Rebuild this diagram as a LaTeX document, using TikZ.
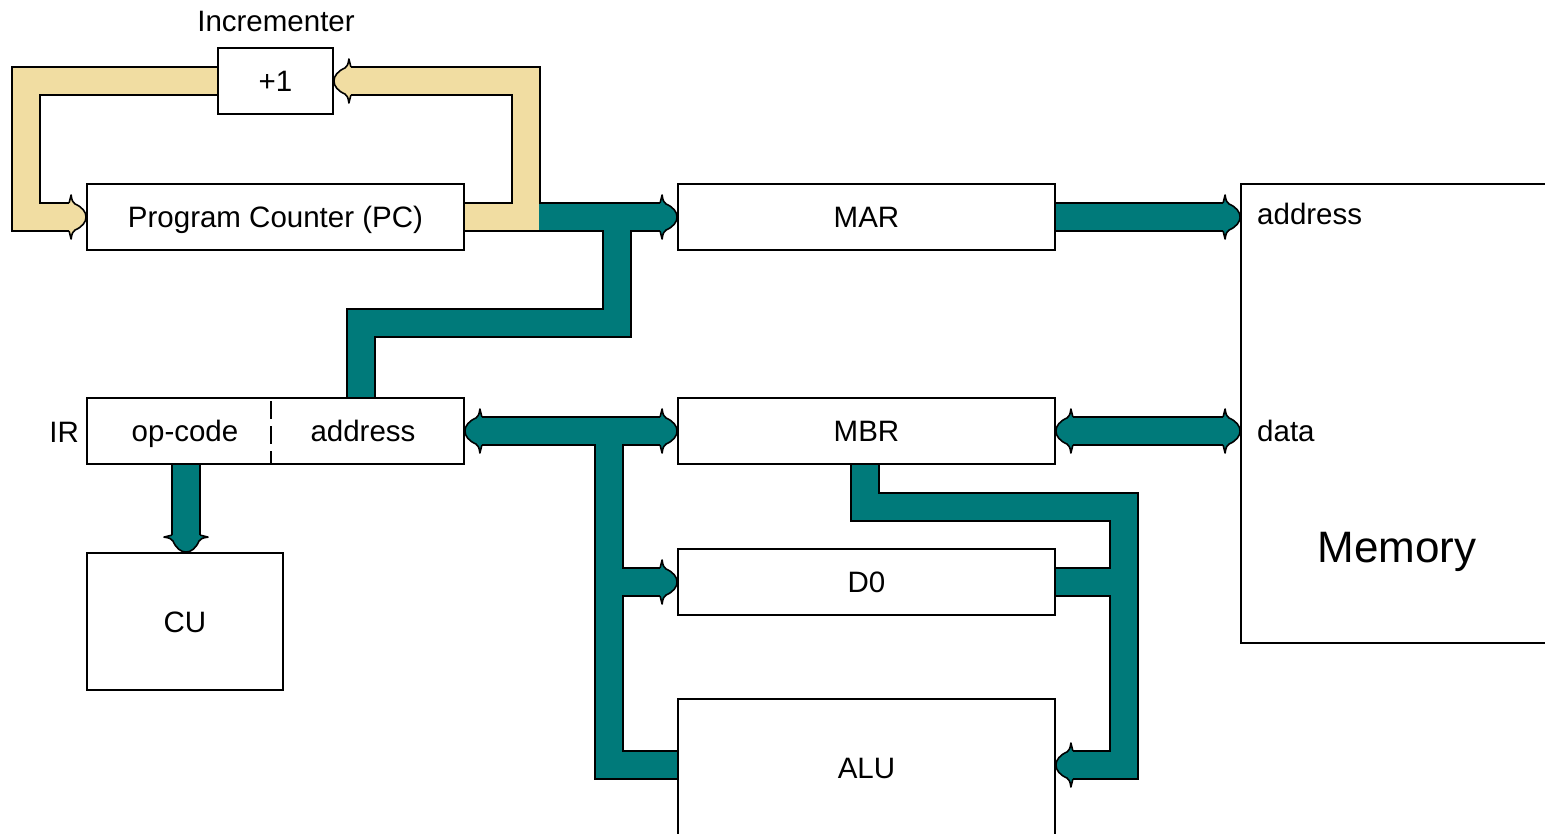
\documentclass[tikz,border=0pt]{standalone}
\usepackage{fontspec}
\setmainfont{Liberation Sans}
\definecolor{busteal}{RGB}{0,122,122}
\definecolor{busyel}{RGB}{241,221,162}
\pgfdeclarelayer{bg}
\pgfsetlayers{bg,main}
\tikzset{
  box/.style={draw=black, line width=1.8pt, fill=white, inner sep=0pt,
    font=\fontsize{29.5}{34}\selectfont, text height=21pt, text depth=0pt},
  lbl/.style={inner sep=0pt, font=\fontsize{29.5}{34}\selectfont, text height=21pt, text depth=0pt},
  busout/.style={line width=30pt, draw=black, line join=miter},
  tealbus/.style={line width=26pt, draw=busteal, line join=miter},
  yelbus/.style={line width=26pt, draw=busyel, line join=miter},
  tealhead/.pic={\filldraw[fill=busteal, draw=black, line width=1.6pt, line join=round]
    (-17,14) -- (-15,22) .. controls (-14,16) .. (-11,13)
    .. controls (-4,10) and (0,5) .. (0,0)
    .. controls (0,-5) and (-4,-10) .. (-11,-13)
    .. controls (-14,-16) .. (-15,-22) -- (-17,-14);},
  yelhead/.pic={\filldraw[fill=busyel, draw=black, line width=1.6pt, line join=round]
    (-17,14) -- (-15,22) .. controls (-14,16) .. (-11,13)
    .. controls (-4,10) and (0,5) .. (0,0)
    .. controls (0,-5) and (-4,-10) .. (-11,-13)
    .. controls (-14,-16) .. (-15,-22) -- (-17,-14);}
}
\begin{document}
\begin{tikzpicture}[x=1pt,y=-1pt]
\useasboundingbox (0,0) rectangle (1545,833);

% boxes
\node[box, minimum width=115pt, minimum height=66pt] (inc) at (275.5,81) {+1};
\node[lbl] (inclbl) at (276,21) {Incrementer};
\node[box, minimum width=377pt, minimum height=66pt] (pc) at (275.5,217) {Program Counter (PC)};
\node[box, minimum width=377pt, minimum height=66pt] (mar) at (866.5,217) {MAR};
\node[box, minimum width=309pt, minimum height=459pt] (mem) at (1395.5,413.5) {};
\node[lbl, anchor=west] (memaddr) at (1257,214) {address};
\node[lbl, anchor=west] (memdata) at (1257,431) {data};
\node[inner sep=0pt, font=\fontsize{44}{50}\selectfont, text height=32pt, text depth=0pt] (memlbl) at (1397,546) {Memory};
\node[box, minimum width=377pt, minimum height=66pt] (ir) at (275.5,431) {};
\node[lbl, anchor=east] (irlbl) at (79,432) {IR};
\node[lbl] (opc) at (185,431) {op-code};
\node[lbl] (iraddr) at (363,431) {address};
\coordinate (dashx) at (271,0);
\draw[line width=1.8pt, dash pattern=on 18pt off 7pt, dash phase=-4pt] (ir.north -| dashx) -- (ir.south -| dashx);
\node[box, minimum width=377pt, minimum height=66pt] (mbr) at (866.5,431) {MBR};
\node[box, minimum width=196pt, minimum height=137pt] (cu) at (185,621.5) {CU};
\node[box, minimum width=377pt, minimum height=66pt] (d0) at (866.5,582) {D0};
\node[box, minimum width=377pt, minimum height=150pt] (alu) at (866.5,774) {};
\node[lbl] (alulbl) at (866.5,768) {ALU};

% junction coordinates
\coordinate (pcj) at (526,217);
\coordinate (yl) at (26,81);
\coordinate (tstart) at (539,217);
\coordinate (brA) at (617,217);
\coordinate (brB) at (617,323);
\coordinate (brC) at (361,323);
\coordinate (memA) at (mem.west |- mar.east);
\coordinate (memB) at (mem.west |- mbr.east);
\coordinate (y765) at (0,765);
\coordinate (vl) at (609,431);
\coordinate (vlb) at (609,765);
\coordinate (vld) at (609,582);
\coordinate (mx) at (865,0);
\coordinate (rA) at (865,507);
\coordinate (rB) at (1124,507);
\coordinate (rC) at (1124,765);
\coordinate (rD) at (1124,582);
\coordinate (cux) at (186,0);

\begin{pgfonlayer}{bg}
\fill[white] (0,0) rectangle (1545,833);
% outlines
\draw[busout] (inc.west) -- (inc.west -| yl) -- (yl |- pc.west) -- ([xshift=-17pt]pc.west);
\draw[busout] (pc.east) -- (pcj) -- (pcj |- inc.east) -- ([xshift=17pt]inc.east);
\draw[busout] (tstart) -- ([xshift=-17pt]mar.west);
\draw[busout] (brA) -- (brB) -- (brC) -- (brC |- ir.north);
\draw[busout] (mar.east) -- ([xshift=-17pt]memA);
\draw[busout] ([xshift=17pt]ir.east) -- ([xshift=-17pt]mbr.west);
\draw[busout] (vl) -- (vlb) -- (alu.west |- y765);
\draw[busout] (vld) -- ([xshift=-17pt]d0.west);
\draw[busout] ([xshift=17pt]mbr.east) -- ([xshift=-17pt]memB);
\draw[busout] (mbr.south -| mx) -- (rA) -- (rB) -- (rC) -- ([xshift=17pt]alu.east |- y765);
\draw[busout] (d0.east) -- (rD);
\draw[busout] (ir.south -| cux) -- ([yshift=17pt]cu.north -| cux);
% yellow fills
\draw[yelbus] (inc.west) -- (inc.west -| yl) -- (yl |- pc.west) -- ([xshift=-16pt]pc.west);
\draw[yelbus] (pc.east) -- (pcj) -- (pcj |- inc.east) -- ([xshift=16pt]inc.east);
% teal fills
\draw[tealbus] (tstart) -- ([xshift=-16pt]mar.west);
\draw[tealbus] (brA) -- (brB) -- (brC) -- (brC |- ir.north);
\draw[tealbus] (mar.east) -- ([xshift=-16pt]memA);
\draw[tealbus] ([xshift=16pt]ir.east) -- ([xshift=-16pt]mbr.west);
\draw[tealbus] (vl) -- (vlb) -- (alu.west |- y765);
\draw[tealbus] (vld) -- ([xshift=-16pt]d0.west);
\draw[tealbus] ([xshift=16pt]mbr.east) -- ([xshift=-16pt]memB);
\draw[tealbus] (mbr.south -| mx) -- (rA) -- (rB) -- (rC) -- ([xshift=16pt]alu.east |- y765);
\draw[tealbus] (d0.east) -- (rD);
\draw[tealbus] (ir.south -| cux) -- ([yshift=16pt]cu.north -| cux);
% heads
\pic at (pc.west) {yelhead};
\pic[rotate=180] at (inc.east) {yelhead};
\pic at (mar.west) {tealhead};
\pic at (memA) {tealhead};
\pic[rotate=180] at (ir.east) {tealhead};
\pic at (mbr.west) {tealhead};
\pic at (d0.west) {tealhead};
\pic[rotate=180] at (mbr.east) {tealhead};
\pic at (memB) {tealhead};
\pic[rotate=180] at (alu.east |- y765) {tealhead};
\pic[rotate=-90] at (cu.north -| cux) {tealhead};
\end{pgfonlayer}
\end{tikzpicture}
\end{document}
